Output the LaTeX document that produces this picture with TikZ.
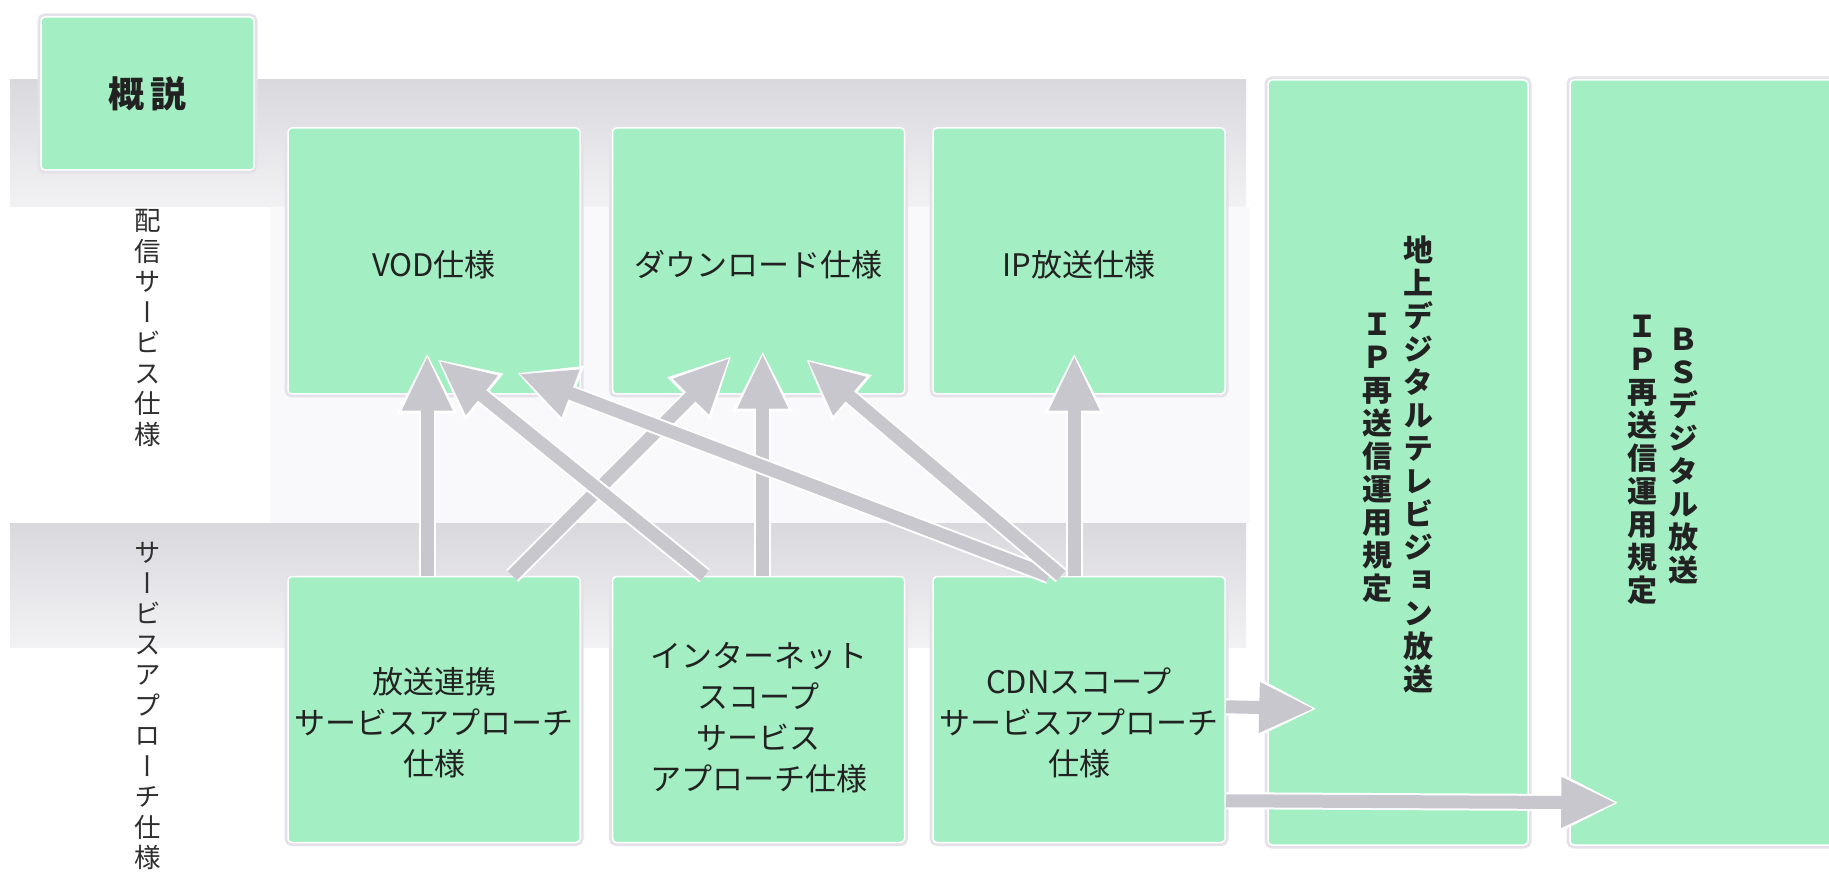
\documentclass[tikz,border=0pt]{standalone}
\usepackage{fontspec}
\usepackage{graphicx}
\usetikzlibrary{arrows.meta,calc}
\newfontfamily\jp{Noto Sans CJK JP}
\newfontfamily\jpv[RawFeature=+vert]{Noto Sans CJK JP}
\definecolor{boxgreen}{HTML}{A3EEC2}
\definecolor{arrgray}{HTML}{C9C7CE}
\definecolor{bandtop}{HTML}{D9D8DD}
\definecolor{bandbot}{HTML}{F2F2F4}
\definecolor{edgegray}{HTML}{E4E2E8}
\definecolor{txt}{HTML}{222222}
\definecolor{lbltxt}{HTML}{2E2E2E}
\definecolor{paneltint}{HTML}{F9F9FB}
\begin{document}
\begin{tikzpicture}[x=1pt,y=-1pt,
  gbox/.style={fill=boxgreen, draw=white, line width=1.5pt, rounded corners=4pt,
    preaction={draw=edgegray, line width=7pt}, inner sep=0pt},
  gtext/.style={text=txt, align=center, inner sep=0pt, font=\jp\fontsize{31}{41}\selectfont},
  vtxt/.style={text=txt, align=center, inner sep=0pt, font=\jpv\bfseries\fontsize{30}{33}\selectfont},
  lbl/.style={text=lbltxt, align=center, inner sep=0pt, font=\jpv\fontsize{26.5}{30.5}\selectfont},
  flow/.style={draw=arrgray, line width=13pt, -{Triangle[length=55pt,width=47pt]},
    preaction={draw=white, line width=17pt, -{Triangle[length=61pt,width=56pt]}, shorten >=-3pt}},
  smallbox/.style={gbox, minimum width=292pt, minimum height=266pt}]
\useasboundingbox (0,0) rectangle (1829,882);
\fill[white] (0,0) rectangle (1829,882);
% bands and panel
\fill[paneltint] (270,207) rectangle (1250,523);
\shade[top color=bandtop, bottom color=bandbot] (10,80) rectangle (1246,207);
\shade[top color=bandtop, bottom color=bandbot] (10,523) rectangle (1246,647);
% boxes
\node[gbox, minimum width=213pt, minimum height=153pt, text=txt,
  font=\jp\bfseries\fontsize{36}{40}\selectfont] (gaisetsu) at (147.5,93.5) {概\hspace{6pt}説};
\node[smallbox] (vod) at (434,261) {};
\node[smallbox] (dl) at (758.5,261) {};
\node[smallbox] (ip) at (1079,261) {};
\node[smallbox] (hoso) at (434,709.5) {};
\node[smallbox] (inet) at (758.5,709.5) {};
\node[smallbox] (cdn) at (1079,709.5) {};
\node[gbox, minimum width=260pt, minimum height=765pt] (chijo) at (1398,462.5) {};
\node[gbox, minimum width=270pt, minimum height=765pt] (bs) at (1705,462.5) {};
% box texts
\node[gtext] (vodT) at ($(vod.center)+(0,4)$) {VOD仕様};
\node[gtext] (dlT) at ($(dl.center)+(0,4)$) {ダウンロード仕様};
\node[gtext] (ipT) at ($(ip.center)+(0,4)$) {IP放送仕様};
\node[gtext] (hosoT) at ($(hoso.center)+(0,13)$) {放送連携\\サービスアプローチ\\仕様};
\node[gtext] (inetT) at ($(inet.center)+(0,8)$) {インターネット\\スコープ\\サービス\\アプローチ仕様};
\node[gtext] (cdnT) at ($(cdn.center)+(0,13)$) {CDNスコープ\\サービスアプローチ\\仕様};
% vertical texts
\node[vtxt] (chijoA) at (1418,464) {地\\上\\デ\\ジ\\タ\\ル\\テ\\レ\\ビ\\ジ\\ョ\\ン\\放\\送};
\node[vtxt] (chijoB) at (1377,458) {Ｉ\\Ｐ\\再\\送\\信\\運\\用\\規\\定};
\node[vtxt] (bsA) at (1683,456) {Ｂ\\Ｓ\\デ\\ジ\\タ\\ル\\放\\送};
\node[vtxt] (bsB) at (1642,460) {Ｉ\\Ｐ\\再\\送\\信\\運\\用\\規\\定};
% side labels
\node[lbl] (lab1) at (148,328) {配\\信\\サ\\ー\\ビ\\ス\\仕\\様};
\node[lbl] (lab2) at (148,706) {サ\\ー\\ビ\\ス\\ア\\プ\\ロ\\ー\\チ\\仕\\様};
% arrows
\draw[flow] ($(hoso.north west)+(140,0)$) -- ($(vod.south west)+(140,-39)$);
\draw[flow] ($(hoso.north west)+(225,0)$) -- ($(dl.south west)+(118,-37)$);
\draw[flow] ($(inet.north west)+(93,0)$) -- ($(vod.south west)+(152,-34)$);
\draw[flow] ($(inet.north west)+(151,0)$) -- ($(dl.south west)+(151,-41)$);
\draw[flow] ($(cdn.north west)+(117,0)$) -- ($(vod.south west)+(232,-21)$);
\draw[flow] ($(cdn.north west)+(129,0)$) -- ($(dl.south west)+(196,-34)$);
\draw[flow] ($(cdn.north west)+(142,0)$) -- ($(ip.south west)+(142,-39)$);
\draw[flow] ($(cdn.north east)+(0,131)$) -- ($(chijo.south west)+(47,-137)$);
\draw[flow] ($(cdn.north east)+(0,225)$) -- ($(bs.south west)+(47,-43)$);
\end{tikzpicture}
\end{document}
